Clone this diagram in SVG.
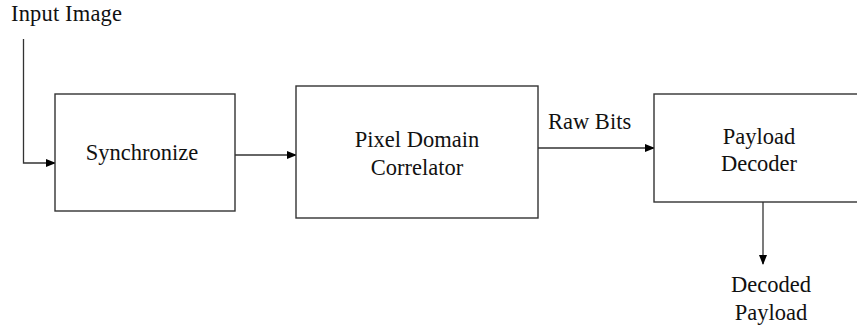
<svg xmlns="http://www.w3.org/2000/svg" width="857" height="328" viewBox="0 0 857 328">
<defs>
<marker id="ah" markerWidth="10" markerHeight="8" refX="9" refY="4" orient="auto" markerUnits="userSpaceOnUse">
<path d="M0,0 L10,4 L0,8 Z" fill="#000"/>
</marker>
<style>
.box{fill:#fff;stroke:#333;stroke-width:1.4}
.ln{fill:none;stroke:#333;stroke-width:1.3}
text{font-family:"Liberation Serif","Times New Roman",serif;font-size:22.5px;fill:#111}
.c{text-anchor:middle}
</style>
</defs>
<g id="connectors">
<path class="ln" d="M23.5,39 V163 H55" marker-end="url(#ah)"/>
<path class="ln" d="M235,155 H296" marker-end="url(#ah)"/>
<path class="ln" d="M538,148 H654" marker-end="url(#ah)"/>
<path class="ln" d="M763,202 V264" marker-end="url(#ah)"/>
</g>
<g id="input-label"><text x="11" y="20.5" textLength="111">Input Image</text></g>
<g id="synchronize">
<rect class="box" x="55" y="94" width="180" height="117"/>
<text class="c" x="142" y="160">Synchronize</text>
</g>
<g id="correlator">
<rect class="box" x="296" y="86" width="242" height="132"/>
<text class="c" x="417" y="146.5">Pixel Domain</text>
<text class="c" x="417" y="175">Correlator</text>
</g>
<g id="raw-bits-label"><text x="548" y="128.5">Raw Bits</text></g>
<g id="decoder">
<rect class="box" x="654" y="94" width="210" height="108"/>
<text class="c" x="759" y="143.5">Payload</text>
<text class="c" x="759" y="171">Decoder</text>
</g>
<g id="output-label">
<text class="c" x="771" y="292">Decoded</text>
<text class="c" x="771" y="320">Payload</text>
</g>
</svg>
